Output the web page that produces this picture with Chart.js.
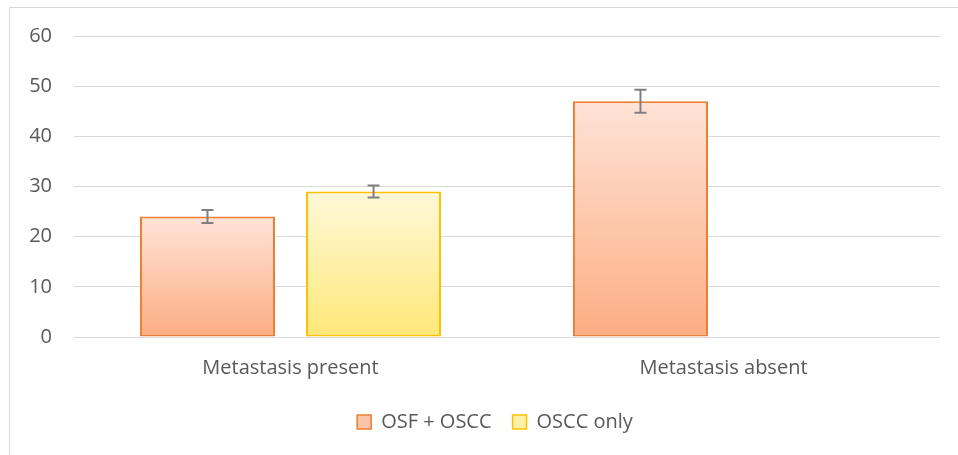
<!DOCTYPE html>
<html lang="en">
<head>
  <meta charset="UTF-8" />
  <title>Metastasis chart</title>
  <script src="https://cdn.jsdelivr.net/npm/chart.js"></script>
  <style>
    body {
      margin: 0;
      background: white;
    }
    .frame {
      position: absolute;
      left: 9px;
      top: 7px;
      width: 949px;
      height: 448px;
      border-top: 1px solid #d9d9d9;
      border-left: 1px solid #d9d9d9;
    }
  </style>
</head>
<body>
<div class="frame">
  <canvas id="chart" width="948" height="447"></canvas>
</div>
<script>
  const categories = ['Metastasis present', 'Metastasis absent'];
  const seriesNames = ['OSF + OSCC', 'OSCC only'];
  const osfOscc = [24, 47];
  const osccOnly = [29, null];
  const osfOsccErr = [1.3, 2.3];
  const osccOnlyErr = [1.2, null];
  const yTicks = [0, 10, 20, 30, 40, 50, 60];

  const textColor = '#595959';
  const fontFamily = '"Open Sans", sans-serif';

  // vertical gradient per bar, light at top, darker at the base
  function barGradient(top, bottom) {
    return function(ctx) {
      const chart = ctx.chart;
      const y = chart.scales.y;
      if (!y || ctx.raw == null) return bottom;
      const yTop = y.getPixelForValue(ctx.raw);
      const yBot = y.getPixelForValue(0);
      const g = chart.ctx.createLinearGradient(0, yTop, 0, yBot);
      g.addColorStop(0, top);
      g.addColorStop(1, bottom);
      return g;
    };
  }

  const errorBars = {
    id: 'errorBars',
    afterDatasetsDraw(chart) {
      const ctx = chart.ctx;
      const y = chart.scales.y;
      chart.data.datasets.forEach((ds, i) => {
        const meta = chart.getDatasetMeta(i);
        meta.data.forEach((bar, j) => {
          const v = ds.data[j];
          const e = ds.errors[j];
          if (v == null || e == null) return;
          const yHi = y.getPixelForValue(v + e);
          const yLo = y.getPixelForValue(v - e);
          ctx.save();
          ctx.strokeStyle = '#7f7f7f';
          ctx.lineWidth = 2;
          ctx.beginPath();
          ctx.moveTo(bar.x, yHi);
          ctx.lineTo(bar.x, yLo);
          ctx.moveTo(bar.x - 6, yHi);
          ctx.lineTo(bar.x + 6, yHi);
          ctx.moveTo(bar.x - 6, yLo);
          ctx.lineTo(bar.x + 6, yLo);
          ctx.stroke();
          ctx.restore();
        });
      });
    }
  };

  // legend sits a little right of the canvas centre in the original
  const legendShift = {
    id: 'legendShift',
    afterLayout(chart) {
      chart.legend.left += 20;
      chart.legend.right += 20;
    }
  };

  const legendFills = ['#fbc4a8', '#fff0a8'];

  new Chart(document.getElementById('chart'), {
    type: 'bar',
    data: {
      labels: categories,
      datasets: [{
        label: seriesNames[0],
        data: osfOscc,
        errors: osfOsccErr,
        backgroundColor: barGradient('#ffe3d7', '#fcad83'),
        borderColor: '#ed7d31',
        borderWidth: 2,
        borderSkipped: false
      }, {
        label: seriesNames[1],
        data: osccOnly,
        errors: osccOnlyErr,
        backgroundColor: barGradient('#fff8d9', '#ffe878'),
        borderColor: '#ffc000',
        borderWidth: 2,
        borderSkipped: false
      }]
    },
    options: {
      responsive: false,
      animation: false,
      categoryPercentage: 0.767,
      barPercentage: 0.813,
      layout: {
        padding: { left: 0, right: 18, top: 28, bottom: 13 }
      },
      scales: {
        x: {
          grid: { display: false },
          border: { display: false },
          ticks: {
            color: textColor,
            padding: 11,
            font: { family: fontFamily, size: 20 }
          }
        },
        y: {
          min: 0,
          max: 60,
          afterBuildTicks(scale) {
            scale.ticks = yTicks.map(v => ({ value: v }));
          },
          afterFit(scale) {
            scale.width = 64;
            scale.paddingTop = 0;
            scale.paddingBottom = 0;
          },
          grid: { color: '#d9d9d9', lineWidth: 1, drawTicks: false },
          border: { display: false },
          ticks: {
            color: textColor,
            padding: 22,
            font: { family: fontFamily, size: 20 }
          }
        }
      },
      plugins: {
        tooltip: { enabled: false },
        legend: {
          position: 'bottom',
          labels: {
            color: textColor,
            boxWidth: 14,
            boxHeight: 14,
            padding: 21,
            font: { family: fontFamily, size: 20 },
            generateLabels(chart) {
              return chart.data.datasets.map((ds, i) => ({
                text: ds.label,
                fillStyle: legendFills[i],
                strokeStyle: ds.borderColor,
                lineWidth: 1.5,
                fontColor: textColor,
                datasetIndex: i
              }));
            }
          }
        }
      }
    },
    plugins: [errorBars, legendShift]
  });
</script>
</body>
</html>
